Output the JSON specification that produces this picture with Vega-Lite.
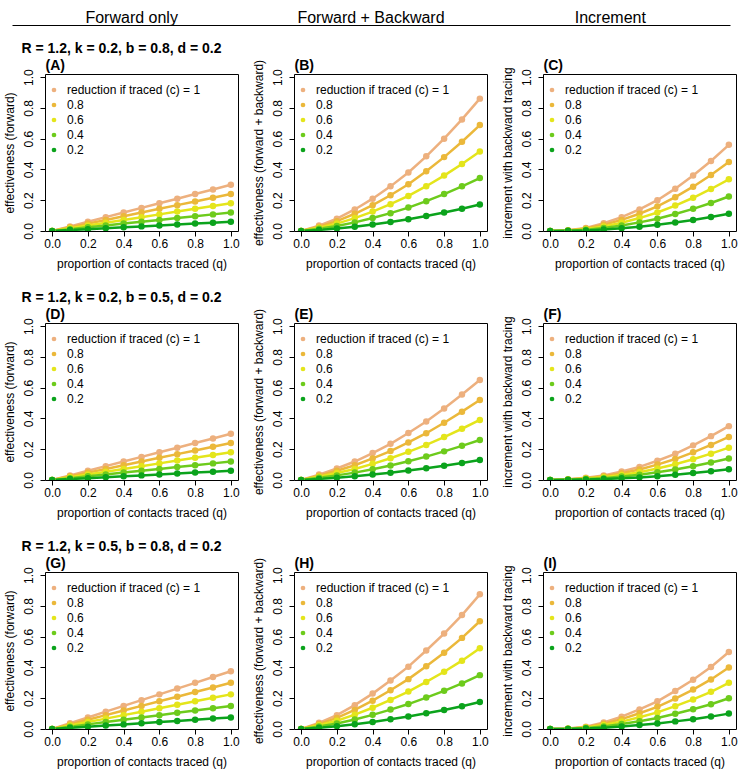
{
"$schema":"https://vega.github.io/schema/vega-lite/v6.json",
"background":"white",
"padding":{"left":2,"right":5,"top":5,"bottom":5},
"config":{
 "font":"Liberation Sans",
 "view":{"stroke":"black","strokeWidth":1},
 "axis":{"labelFont":"Liberation Sans","titleFont":"Liberation Sans","labelFontSize":12,"titleFontSize":12,"titleFontWeight":"normal","labelColor":"black","titleColor":"black","tickColor":"black","tickSize":5,"domain":false,"grid":false,"labelPadding":2},
 "axisBottom":{"titlePadding":9},
 "axisTop":{"titlePadding":2,"titleAnchor":"start","titleAlign":"left","titleFontWeight":"bold","titleFontSize":14,"labels":false,"ticks":false},
 "axisY":{"labelAngle":270,"labelAlign":"center","labelBaseline":"bottom","titlePadding":6,"labelPadding":5},
 "legend":{"orient":"none","legendX":3,"legendY":10,"padding":0,"labelFont":"Liberation Sans","labelFontSize":12,"labelColor":"black","symbolType":"circle","symbolSize":22,"rowPadding":3,"labelOffset":7,"symbolStrokeWidth":0},
 "title":{"font":"Liberation Sans","fontSize":14,"fontWeight":"bold","anchor":"start","offset":2,"color":"black"}
},
"datasets":{
"A":[
{"c":"1","q":0,"v":0},{"c":"1","q":0.1,"v":0.03},{"c":"1","q":0.2,"v":0.06},{"c":"1","q":0.3,"v":0.09},{"c":"1","q":0.4,"v":0.12},{"c":"1","q":0.5,"v":0.15},{"c":"1","q":0.6,"v":0.18},{"c":"1","q":0.7,"v":0.21},{"c":"1","q":0.8,"v":0.24},{"c":"1","q":0.9,"v":0.27},{"c":"1","q":1,"v":0.3},
{"c":"0.8","q":0,"v":0},{"c":"0.8","q":0.1,"v":0.024},{"c":"0.8","q":0.2,"v":0.048},{"c":"0.8","q":0.3,"v":0.072},{"c":"0.8","q":0.4,"v":0.096},{"c":"0.8","q":0.5,"v":0.12},{"c":"0.8","q":0.6,"v":0.144},{"c":"0.8","q":0.7,"v":0.168},{"c":"0.8","q":0.8,"v":0.192},{"c":"0.8","q":0.9,"v":0.216},{"c":"0.8","q":1,"v":0.24},
{"c":"0.6","q":0,"v":0},{"c":"0.6","q":0.1,"v":0.018},{"c":"0.6","q":0.2,"v":0.036},{"c":"0.6","q":0.3,"v":0.054},{"c":"0.6","q":0.4,"v":0.072},{"c":"0.6","q":0.5,"v":0.09},{"c":"0.6","q":0.6,"v":0.108},{"c":"0.6","q":0.7,"v":0.126},{"c":"0.6","q":0.8,"v":0.144},{"c":"0.6","q":0.9,"v":0.162},{"c":"0.6","q":1,"v":0.18},
{"c":"0.4","q":0,"v":0},{"c":"0.4","q":0.1,"v":0.012},{"c":"0.4","q":0.2,"v":0.024},{"c":"0.4","q":0.3,"v":0.036},{"c":"0.4","q":0.4,"v":0.048},{"c":"0.4","q":0.5,"v":0.06},{"c":"0.4","q":0.6,"v":0.072},{"c":"0.4","q":0.7,"v":0.084},{"c":"0.4","q":0.8,"v":0.096},{"c":"0.4","q":0.9,"v":0.108},{"c":"0.4","q":1,"v":0.12},
{"c":"0.2","q":0,"v":0},{"c":"0.2","q":0.1,"v":0.006},{"c":"0.2","q":0.2,"v":0.012},{"c":"0.2","q":0.3,"v":0.018},{"c":"0.2","q":0.4,"v":0.024},{"c":"0.2","q":0.5,"v":0.03},{"c":"0.2","q":0.6,"v":0.036},{"c":"0.2","q":0.7,"v":0.042},{"c":"0.2","q":0.8,"v":0.048},{"c":"0.2","q":0.9,"v":0.054},{"c":"0.2","q":1,"v":0.06}
],
"B":[
{"c":"1","q":0,"v":0},{"c":"1","q":0.1,"v":0.035},{"c":"1","q":0.2,"v":0.08},{"c":"1","q":0.3,"v":0.14},{"c":"1","q":0.4,"v":0.21},{"c":"1","q":0.5,"v":0.29},{"c":"1","q":0.6,"v":0.38},{"c":"1","q":0.7,"v":0.485},{"c":"1","q":0.8,"v":0.6},{"c":"1","q":0.9,"v":0.725},{"c":"1","q":1,"v":0.86},
{"c":"0.8","q":0,"v":0},{"c":"0.8","q":0.1,"v":0.028},{"c":"0.8","q":0.2,"v":0.064},{"c":"0.8","q":0.3,"v":0.112},{"c":"0.8","q":0.4,"v":0.168},{"c":"0.8","q":0.5,"v":0.232},{"c":"0.8","q":0.6,"v":0.304},{"c":"0.8","q":0.7,"v":0.388},{"c":"0.8","q":0.8,"v":0.48},{"c":"0.8","q":0.9,"v":0.58},{"c":"0.8","q":1,"v":0.688},
{"c":"0.6","q":0,"v":0},{"c":"0.6","q":0.1,"v":0.021},{"c":"0.6","q":0.2,"v":0.048},{"c":"0.6","q":0.3,"v":0.084},{"c":"0.6","q":0.4,"v":0.126},{"c":"0.6","q":0.5,"v":0.174},{"c":"0.6","q":0.6,"v":0.228},{"c":"0.6","q":0.7,"v":0.291},{"c":"0.6","q":0.8,"v":0.36},{"c":"0.6","q":0.9,"v":0.435},{"c":"0.6","q":1,"v":0.516},
{"c":"0.4","q":0,"v":0},{"c":"0.4","q":0.1,"v":0.014},{"c":"0.4","q":0.2,"v":0.032},{"c":"0.4","q":0.3,"v":0.056},{"c":"0.4","q":0.4,"v":0.084},{"c":"0.4","q":0.5,"v":0.116},{"c":"0.4","q":0.6,"v":0.152},{"c":"0.4","q":0.7,"v":0.194},{"c":"0.4","q":0.8,"v":0.24},{"c":"0.4","q":0.9,"v":0.29},{"c":"0.4","q":1,"v":0.344},
{"c":"0.2","q":0,"v":0},{"c":"0.2","q":0.1,"v":0.007},{"c":"0.2","q":0.2,"v":0.016},{"c":"0.2","q":0.3,"v":0.028},{"c":"0.2","q":0.4,"v":0.042},{"c":"0.2","q":0.5,"v":0.058},{"c":"0.2","q":0.6,"v":0.076},{"c":"0.2","q":0.7,"v":0.097},{"c":"0.2","q":0.8,"v":0.12},{"c":"0.2","q":0.9,"v":0.145},{"c":"0.2","q":1,"v":0.172}
],
"C":[
{"c":"1","q":0,"v":0},{"c":"1","q":0.1,"v":0.005},{"c":"1","q":0.2,"v":0.02},{"c":"1","q":0.3,"v":0.05},{"c":"1","q":0.4,"v":0.09},{"c":"1","q":0.5,"v":0.14},{"c":"1","q":0.6,"v":0.2},{"c":"1","q":0.7,"v":0.275},{"c":"1","q":0.8,"v":0.36},{"c":"1","q":0.9,"v":0.455},{"c":"1","q":1,"v":0.56},
{"c":"0.8","q":0,"v":0},{"c":"0.8","q":0.1,"v":0.004},{"c":"0.8","q":0.2,"v":0.016},{"c":"0.8","q":0.3,"v":0.04},{"c":"0.8","q":0.4,"v":0.072},{"c":"0.8","q":0.5,"v":0.112},{"c":"0.8","q":0.6,"v":0.16},{"c":"0.8","q":0.7,"v":0.22},{"c":"0.8","q":0.8,"v":0.288},{"c":"0.8","q":0.9,"v":0.364},{"c":"0.8","q":1,"v":0.448},
{"c":"0.6","q":0,"v":0},{"c":"0.6","q":0.1,"v":0.003},{"c":"0.6","q":0.2,"v":0.012},{"c":"0.6","q":0.3,"v":0.03},{"c":"0.6","q":0.4,"v":0.054},{"c":"0.6","q":0.5,"v":0.084},{"c":"0.6","q":0.6,"v":0.12},{"c":"0.6","q":0.7,"v":0.165},{"c":"0.6","q":0.8,"v":0.216},{"c":"0.6","q":0.9,"v":0.273},{"c":"0.6","q":1,"v":0.336},
{"c":"0.4","q":0,"v":0},{"c":"0.4","q":0.1,"v":0.002},{"c":"0.4","q":0.2,"v":0.008},{"c":"0.4","q":0.3,"v":0.02},{"c":"0.4","q":0.4,"v":0.036},{"c":"0.4","q":0.5,"v":0.056},{"c":"0.4","q":0.6,"v":0.08},{"c":"0.4","q":0.7,"v":0.11},{"c":"0.4","q":0.8,"v":0.144},{"c":"0.4","q":0.9,"v":0.182},{"c":"0.4","q":1,"v":0.224},
{"c":"0.2","q":0,"v":0},{"c":"0.2","q":0.1,"v":0.001},{"c":"0.2","q":0.2,"v":0.004},{"c":"0.2","q":0.3,"v":0.01},{"c":"0.2","q":0.4,"v":0.018},{"c":"0.2","q":0.5,"v":0.028},{"c":"0.2","q":0.6,"v":0.04},{"c":"0.2","q":0.7,"v":0.055},{"c":"0.2","q":0.8,"v":0.072},{"c":"0.2","q":0.9,"v":0.091},{"c":"0.2","q":1,"v":0.112}
],
"D":[
{"c":"1","q":0,"v":0},{"c":"1","q":0.1,"v":0.03},{"c":"1","q":0.2,"v":0.06},{"c":"1","q":0.3,"v":0.09},{"c":"1","q":0.4,"v":0.12},{"c":"1","q":0.5,"v":0.15},{"c":"1","q":0.6,"v":0.18},{"c":"1","q":0.7,"v":0.21},{"c":"1","q":0.8,"v":0.24},{"c":"1","q":0.9,"v":0.27},{"c":"1","q":1,"v":0.3},
{"c":"0.8","q":0,"v":0},{"c":"0.8","q":0.1,"v":0.024},{"c":"0.8","q":0.2,"v":0.048},{"c":"0.8","q":0.3,"v":0.072},{"c":"0.8","q":0.4,"v":0.096},{"c":"0.8","q":0.5,"v":0.12},{"c":"0.8","q":0.6,"v":0.144},{"c":"0.8","q":0.7,"v":0.168},{"c":"0.8","q":0.8,"v":0.192},{"c":"0.8","q":0.9,"v":0.216},{"c":"0.8","q":1,"v":0.24},
{"c":"0.6","q":0,"v":0},{"c":"0.6","q":0.1,"v":0.018},{"c":"0.6","q":0.2,"v":0.036},{"c":"0.6","q":0.3,"v":0.054},{"c":"0.6","q":0.4,"v":0.072},{"c":"0.6","q":0.5,"v":0.09},{"c":"0.6","q":0.6,"v":0.108},{"c":"0.6","q":0.7,"v":0.126},{"c":"0.6","q":0.8,"v":0.144},{"c":"0.6","q":0.9,"v":0.162},{"c":"0.6","q":1,"v":0.18},
{"c":"0.4","q":0,"v":0},{"c":"0.4","q":0.1,"v":0.012},{"c":"0.4","q":0.2,"v":0.024},{"c":"0.4","q":0.3,"v":0.036},{"c":"0.4","q":0.4,"v":0.048},{"c":"0.4","q":0.5,"v":0.06},{"c":"0.4","q":0.6,"v":0.072},{"c":"0.4","q":0.7,"v":0.084},{"c":"0.4","q":0.8,"v":0.096},{"c":"0.4","q":0.9,"v":0.108},{"c":"0.4","q":1,"v":0.12},
{"c":"0.2","q":0,"v":0},{"c":"0.2","q":0.1,"v":0.006},{"c":"0.2","q":0.2,"v":0.012},{"c":"0.2","q":0.3,"v":0.018},{"c":"0.2","q":0.4,"v":0.024},{"c":"0.2","q":0.5,"v":0.03},{"c":"0.2","q":0.6,"v":0.036},{"c":"0.2","q":0.7,"v":0.042},{"c":"0.2","q":0.8,"v":0.048},{"c":"0.2","q":0.9,"v":0.054},{"c":"0.2","q":1,"v":0.06}
],
"E":[
{"c":"1","q":0,"v":0},{"c":"1","q":0.1,"v":0.035},{"c":"1","q":0.2,"v":0.075},{"c":"1","q":0.3,"v":0.12},{"c":"1","q":0.4,"v":0.175},{"c":"1","q":0.5,"v":0.235},{"c":"1","q":0.6,"v":0.305},{"c":"1","q":0.7,"v":0.38},{"c":"1","q":0.8,"v":0.465},{"c":"1","q":0.9,"v":0.555},{"c":"1","q":1,"v":0.65},
{"c":"0.8","q":0,"v":0},{"c":"0.8","q":0.1,"v":0.028},{"c":"0.8","q":0.2,"v":0.06},{"c":"0.8","q":0.3,"v":0.096},{"c":"0.8","q":0.4,"v":0.14},{"c":"0.8","q":0.5,"v":0.188},{"c":"0.8","q":0.6,"v":0.244},{"c":"0.8","q":0.7,"v":0.304},{"c":"0.8","q":0.8,"v":0.372},{"c":"0.8","q":0.9,"v":0.444},{"c":"0.8","q":1,"v":0.52},
{"c":"0.6","q":0,"v":0},{"c":"0.6","q":0.1,"v":0.021},{"c":"0.6","q":0.2,"v":0.045},{"c":"0.6","q":0.3,"v":0.072},{"c":"0.6","q":0.4,"v":0.105},{"c":"0.6","q":0.5,"v":0.141},{"c":"0.6","q":0.6,"v":0.183},{"c":"0.6","q":0.7,"v":0.228},{"c":"0.6","q":0.8,"v":0.279},{"c":"0.6","q":0.9,"v":0.333},{"c":"0.6","q":1,"v":0.39},
{"c":"0.4","q":0,"v":0},{"c":"0.4","q":0.1,"v":0.014},{"c":"0.4","q":0.2,"v":0.03},{"c":"0.4","q":0.3,"v":0.048},{"c":"0.4","q":0.4,"v":0.07},{"c":"0.4","q":0.5,"v":0.094},{"c":"0.4","q":0.6,"v":0.122},{"c":"0.4","q":0.7,"v":0.152},{"c":"0.4","q":0.8,"v":0.186},{"c":"0.4","q":0.9,"v":0.222},{"c":"0.4","q":1,"v":0.26},
{"c":"0.2","q":0,"v":0},{"c":"0.2","q":0.1,"v":0.007},{"c":"0.2","q":0.2,"v":0.015},{"c":"0.2","q":0.3,"v":0.024},{"c":"0.2","q":0.4,"v":0.035},{"c":"0.2","q":0.5,"v":0.047},{"c":"0.2","q":0.6,"v":0.061},{"c":"0.2","q":0.7,"v":0.076},{"c":"0.2","q":0.8,"v":0.093},{"c":"0.2","q":0.9,"v":0.111},{"c":"0.2","q":1,"v":0.13}
],
"F":[
{"c":"1","q":0,"v":0},{"c":"1","q":0.1,"v":0.005},{"c":"1","q":0.2,"v":0.015},{"c":"1","q":0.3,"v":0.03},{"c":"1","q":0.4,"v":0.055},{"c":"1","q":0.5,"v":0.085},{"c":"1","q":0.6,"v":0.125},{"c":"1","q":0.7,"v":0.17},{"c":"1","q":0.8,"v":0.225},{"c":"1","q":0.9,"v":0.285},{"c":"1","q":1,"v":0.35},
{"c":"0.8","q":0,"v":0},{"c":"0.8","q":0.1,"v":0.004},{"c":"0.8","q":0.2,"v":0.012},{"c":"0.8","q":0.3,"v":0.024},{"c":"0.8","q":0.4,"v":0.044},{"c":"0.8","q":0.5,"v":0.068},{"c":"0.8","q":0.6,"v":0.1},{"c":"0.8","q":0.7,"v":0.136},{"c":"0.8","q":0.8,"v":0.18},{"c":"0.8","q":0.9,"v":0.228},{"c":"0.8","q":1,"v":0.28},
{"c":"0.6","q":0,"v":0},{"c":"0.6","q":0.1,"v":0.003},{"c":"0.6","q":0.2,"v":0.009},{"c":"0.6","q":0.3,"v":0.018},{"c":"0.6","q":0.4,"v":0.033},{"c":"0.6","q":0.5,"v":0.051},{"c":"0.6","q":0.6,"v":0.075},{"c":"0.6","q":0.7,"v":0.102},{"c":"0.6","q":0.8,"v":0.135},{"c":"0.6","q":0.9,"v":0.171},{"c":"0.6","q":1,"v":0.21},
{"c":"0.4","q":0,"v":0},{"c":"0.4","q":0.1,"v":0.002},{"c":"0.4","q":0.2,"v":0.006},{"c":"0.4","q":0.3,"v":0.012},{"c":"0.4","q":0.4,"v":0.022},{"c":"0.4","q":0.5,"v":0.034},{"c":"0.4","q":0.6,"v":0.05},{"c":"0.4","q":0.7,"v":0.068},{"c":"0.4","q":0.8,"v":0.09},{"c":"0.4","q":0.9,"v":0.114},{"c":"0.4","q":1,"v":0.14},
{"c":"0.2","q":0,"v":0},{"c":"0.2","q":0.1,"v":0.001},{"c":"0.2","q":0.2,"v":0.003},{"c":"0.2","q":0.3,"v":0.006},{"c":"0.2","q":0.4,"v":0.011},{"c":"0.2","q":0.5,"v":0.017},{"c":"0.2","q":0.6,"v":0.025},{"c":"0.2","q":0.7,"v":0.034},{"c":"0.2","q":0.8,"v":0.045},{"c":"0.2","q":0.9,"v":0.057},{"c":"0.2","q":1,"v":0.07}
],
"G":[
{"c":"1","q":0,"v":0},{"c":"1","q":0.1,"v":0.0375},{"c":"1","q":0.2,"v":0.075},{"c":"1","q":0.3,"v":0.1125},{"c":"1","q":0.4,"v":0.15},{"c":"1","q":0.5,"v":0.1875},{"c":"1","q":0.6,"v":0.225},{"c":"1","q":0.7,"v":0.2625},{"c":"1","q":0.8,"v":0.3},{"c":"1","q":0.9,"v":0.3375},{"c":"1","q":1,"v":0.375},
{"c":"0.8","q":0,"v":0},{"c":"0.8","q":0.1,"v":0.03},{"c":"0.8","q":0.2,"v":0.06},{"c":"0.8","q":0.3,"v":0.09},{"c":"0.8","q":0.4,"v":0.12},{"c":"0.8","q":0.5,"v":0.15},{"c":"0.8","q":0.6,"v":0.18},{"c":"0.8","q":0.7,"v":0.21},{"c":"0.8","q":0.8,"v":0.24},{"c":"0.8","q":0.9,"v":0.27},{"c":"0.8","q":1,"v":0.3},
{"c":"0.6","q":0,"v":0},{"c":"0.6","q":0.1,"v":0.0225},{"c":"0.6","q":0.2,"v":0.045},{"c":"0.6","q":0.3,"v":0.0675},{"c":"0.6","q":0.4,"v":0.09},{"c":"0.6","q":0.5,"v":0.1125},{"c":"0.6","q":0.6,"v":0.135},{"c":"0.6","q":0.7,"v":0.1575},{"c":"0.6","q":0.8,"v":0.18},{"c":"0.6","q":0.9,"v":0.2025},{"c":"0.6","q":1,"v":0.225},
{"c":"0.4","q":0,"v":0},{"c":"0.4","q":0.1,"v":0.015},{"c":"0.4","q":0.2,"v":0.03},{"c":"0.4","q":0.3,"v":0.045},{"c":"0.4","q":0.4,"v":0.06},{"c":"0.4","q":0.5,"v":0.075},{"c":"0.4","q":0.6,"v":0.09},{"c":"0.4","q":0.7,"v":0.105},{"c":"0.4","q":0.8,"v":0.12},{"c":"0.4","q":0.9,"v":0.135},{"c":"0.4","q":1,"v":0.15},
{"c":"0.2","q":0,"v":0},{"c":"0.2","q":0.1,"v":0.0075},{"c":"0.2","q":0.2,"v":0.015},{"c":"0.2","q":0.3,"v":0.0225},{"c":"0.2","q":0.4,"v":0.03},{"c":"0.2","q":0.5,"v":0.0375},{"c":"0.2","q":0.6,"v":0.045},{"c":"0.2","q":0.7,"v":0.0525},{"c":"0.2","q":0.8,"v":0.06},{"c":"0.2","q":0.9,"v":0.0675},{"c":"0.2","q":1,"v":0.075}
],
"H":[
{"c":"1","q":0,"v":0},{"c":"1","q":0.1,"v":0.04},{"c":"1","q":0.2,"v":0.09},{"c":"1","q":0.3,"v":0.155},{"c":"1","q":0.4,"v":0.23},{"c":"1","q":0.5,"v":0.315},{"c":"1","q":0.6,"v":0.405},{"c":"1","q":0.7,"v":0.51},{"c":"1","q":0.8,"v":0.62},{"c":"1","q":0.9,"v":0.74},{"c":"1","q":1,"v":0.875},
{"c":"0.8","q":0,"v":0},{"c":"0.8","q":0.1,"v":0.032},{"c":"0.8","q":0.2,"v":0.072},{"c":"0.8","q":0.3,"v":0.124},{"c":"0.8","q":0.4,"v":0.184},{"c":"0.8","q":0.5,"v":0.252},{"c":"0.8","q":0.6,"v":0.324},{"c":"0.8","q":0.7,"v":0.408},{"c":"0.8","q":0.8,"v":0.496},{"c":"0.8","q":0.9,"v":0.592},{"c":"0.8","q":1,"v":0.7},
{"c":"0.6","q":0,"v":0},{"c":"0.6","q":0.1,"v":0.024},{"c":"0.6","q":0.2,"v":0.054},{"c":"0.6","q":0.3,"v":0.093},{"c":"0.6","q":0.4,"v":0.138},{"c":"0.6","q":0.5,"v":0.189},{"c":"0.6","q":0.6,"v":0.243},{"c":"0.6","q":0.7,"v":0.306},{"c":"0.6","q":0.8,"v":0.372},{"c":"0.6","q":0.9,"v":0.444},{"c":"0.6","q":1,"v":0.525},
{"c":"0.4","q":0,"v":0},{"c":"0.4","q":0.1,"v":0.016},{"c":"0.4","q":0.2,"v":0.036},{"c":"0.4","q":0.3,"v":0.062},{"c":"0.4","q":0.4,"v":0.092},{"c":"0.4","q":0.5,"v":0.126},{"c":"0.4","q":0.6,"v":0.162},{"c":"0.4","q":0.7,"v":0.204},{"c":"0.4","q":0.8,"v":0.248},{"c":"0.4","q":0.9,"v":0.296},{"c":"0.4","q":1,"v":0.35},
{"c":"0.2","q":0,"v":0},{"c":"0.2","q":0.1,"v":0.008},{"c":"0.2","q":0.2,"v":0.018},{"c":"0.2","q":0.3,"v":0.031},{"c":"0.2","q":0.4,"v":0.046},{"c":"0.2","q":0.5,"v":0.063},{"c":"0.2","q":0.6,"v":0.081},{"c":"0.2","q":0.7,"v":0.102},{"c":"0.2","q":0.8,"v":0.124},{"c":"0.2","q":0.9,"v":0.148},{"c":"0.2","q":1,"v":0.175}
],
"I":[
{"c":"1","q":0,"v":0},{"c":"1","q":0.1,"v":0.0025},{"c":"1","q":0.2,"v":0.015},{"c":"1","q":0.3,"v":0.0425},{"c":"1","q":0.4,"v":0.08},{"c":"1","q":0.5,"v":0.1275},{"c":"1","q":0.6,"v":0.18},{"c":"1","q":0.7,"v":0.2475},{"c":"1","q":0.8,"v":0.32},{"c":"1","q":0.9,"v":0.4025},{"c":"1","q":1,"v":0.5},
{"c":"0.8","q":0,"v":0},{"c":"0.8","q":0.1,"v":0.002},{"c":"0.8","q":0.2,"v":0.012},{"c":"0.8","q":0.3,"v":0.034},{"c":"0.8","q":0.4,"v":0.064},{"c":"0.8","q":0.5,"v":0.102},{"c":"0.8","q":0.6,"v":0.144},{"c":"0.8","q":0.7,"v":0.198},{"c":"0.8","q":0.8,"v":0.256},{"c":"0.8","q":0.9,"v":0.322},{"c":"0.8","q":1,"v":0.4},
{"c":"0.6","q":0,"v":0},{"c":"0.6","q":0.1,"v":0.0015},{"c":"0.6","q":0.2,"v":0.009},{"c":"0.6","q":0.3,"v":0.0255},{"c":"0.6","q":0.4,"v":0.048},{"c":"0.6","q":0.5,"v":0.0765},{"c":"0.6","q":0.6,"v":0.108},{"c":"0.6","q":0.7,"v":0.1485},{"c":"0.6","q":0.8,"v":0.192},{"c":"0.6","q":0.9,"v":0.2415},{"c":"0.6","q":1,"v":0.3},
{"c":"0.4","q":0,"v":0},{"c":"0.4","q":0.1,"v":0.001},{"c":"0.4","q":0.2,"v":0.006},{"c":"0.4","q":0.3,"v":0.017},{"c":"0.4","q":0.4,"v":0.032},{"c":"0.4","q":0.5,"v":0.051},{"c":"0.4","q":0.6,"v":0.072},{"c":"0.4","q":0.7,"v":0.099},{"c":"0.4","q":0.8,"v":0.128},{"c":"0.4","q":0.9,"v":0.161},{"c":"0.4","q":1,"v":0.2},
{"c":"0.2","q":0,"v":0},{"c":"0.2","q":0.1,"v":0.0005},{"c":"0.2","q":0.2,"v":0.003},{"c":"0.2","q":0.3,"v":0.0085},{"c":"0.2","q":0.4,"v":0.016},{"c":"0.2","q":0.5,"v":0.0255},{"c":"0.2","q":0.6,"v":0.036},{"c":"0.2","q":0.7,"v":0.0495},{"c":"0.2","q":0.8,"v":0.064},{"c":"0.2","q":0.9,"v":0.0805},{"c":"0.2","q":1,"v":0.1}
]
},
"spacing":15,
"resolve":{"scale":{"color":"independent"},"legend":{"color":"independent"}},
"vconcat":[
{
 "width":685,"height":20,
 "view":{"stroke":null},
 "data":{"values":[{"h":"Forward only"},{"h":"Forward + Backward"},{"h":"Increment"}]},
 "mark":{"type":"text","fontSize":16,"font":"Liberation Sans","baseline":"middle","dy":3,"color":"black"},
 "encoding":{
  "x":{"field":"h","type":"nominal","sort":["Forward only","Forward + Backward","Increment"],"scale":{"type":"point","padding":0.5,"range":[-33,685]},"axis":{"orient":"bottom","domain":true,"domainColor":"black","domainWidth":1,"ticks":false,"labels":false,"title":null}},
  "text":{"field":"h","type":"nominal"}
 }
},
{
 "spacing":20,
 "resolve":{"scale":{"color":"independent"},"legend":{"color":"independent"}},
 "vconcat":[
 {"title":{"text":"R = 1.2, k = 0.2, b = 0.8, d = 0.2","fontSize":14,"offset":2,"dx":19,"frame":"bounds"},"spacing":11,
  "resolve":{"scale":{"color":"independent"},"legend":{"color":"independent"}},
  "hconcat":[
  {"width":193,"height":157,"data":{"name":"A"},"resolve":{"axis":{"x":"independent"},"legend":{"color":"independent"}},
   "encoding":{"y":{"field":"v","type":"quantitative","scale":{"domain":[0,1.02],"nice":false},"axis":{"values":[0,0.2,0.4,0.6,0.8,1],"format":".1f","title":"effectiveness (forward)"}}},
   "layer":[
    {"mark":{"type":"line","strokeWidth":2.5,"clip":true},"encoding":{"x":{"field":"q","type":"quantitative","scale":{"domain":[-0.04,1.04],"nice":false,"zero":false},"axis":{"orient":"bottom","values":[0,0.2,0.4,0.6,0.8,1],"format":".1f","title":"proportion of contacts traced (q)"}},"color":{"field":"c","type":"nominal","scale":{"domain":["1","0.8","0.6","0.4","0.2"],"range":["#EDB07E","#EBB83A","#E4E51B","#6DCB1C","#0BA31C"]},"legend":null}}},
    {"mark":{"type":"point","filled":true,"size":42,"opacity":1,"clip":true},"encoding":{"x":{"field":"q","type":"quantitative","scale":{"domain":[-0.04,1.04],"nice":false,"zero":false},"axis":{"orient":"top","title":"(A)"}},"color":{"field":"c","type":"nominal","scale":{"domain":["1","0.8","0.6","0.4","0.2"],"range":["#EDB07E","#EBB83A","#E4E51B","#6DCB1C","#0BA31C"]},"legend":{"title":null,"labelExpr":"datum.label == '1' ? 'reduction if traced (c) = 1' : '\u00a0' + datum.label"}}}}
   ]},
  {"width":193,"height":157,"data":{"name":"B"},"resolve":{"axis":{"x":"independent"},"legend":{"color":"independent"}},
   "encoding":{"y":{"field":"v","type":"quantitative","scale":{"domain":[0,1.02],"nice":false},"axis":{"values":[0,0.2,0.4,0.6,0.8,1],"format":".1f","title":"effectiveness (forward + backward)"}}},
   "layer":[
    {"mark":{"type":"line","strokeWidth":2.5,"clip":true},"encoding":{"x":{"field":"q","type":"quantitative","scale":{"domain":[-0.04,1.04],"nice":false,"zero":false},"axis":{"orient":"bottom","values":[0,0.2,0.4,0.6,0.8,1],"format":".1f","title":"proportion of contacts traced (q)"}},"color":{"field":"c","type":"nominal","scale":{"domain":["1","0.8","0.6","0.4","0.2"],"range":["#EDB07E","#EBB83A","#E4E51B","#6DCB1C","#0BA31C"]},"legend":null}}},
    {"mark":{"type":"point","filled":true,"size":42,"opacity":1,"clip":true},"encoding":{"x":{"field":"q","type":"quantitative","scale":{"domain":[-0.04,1.04],"nice":false,"zero":false},"axis":{"orient":"top","title":"(B)"}},"color":{"field":"c","type":"nominal","scale":{"domain":["1","0.8","0.6","0.4","0.2"],"range":["#EDB07E","#EBB83A","#E4E51B","#6DCB1C","#0BA31C"]},"legend":{"title":null,"labelExpr":"datum.label == '1' ? 'reduction if traced (c) = 1' : '\u00a0' + datum.label"}}}}
   ]},
  {"width":193,"height":157,"data":{"name":"C"},"resolve":{"axis":{"x":"independent"},"legend":{"color":"independent"}},
   "encoding":{"y":{"field":"v","type":"quantitative","scale":{"domain":[0,1.02],"nice":false},"axis":{"values":[0,0.2,0.4,0.6,0.8,1],"format":".1f","title":"increment with backward tracing"}}},
   "layer":[
    {"mark":{"type":"line","strokeWidth":2.5,"clip":true},"encoding":{"x":{"field":"q","type":"quantitative","scale":{"domain":[-0.04,1.04],"nice":false,"zero":false},"axis":{"orient":"bottom","values":[0,0.2,0.4,0.6,0.8,1],"format":".1f","title":"proportion of contacts traced (q)"}},"color":{"field":"c","type":"nominal","scale":{"domain":["1","0.8","0.6","0.4","0.2"],"range":["#EDB07E","#EBB83A","#E4E51B","#6DCB1C","#0BA31C"]},"legend":null}}},
    {"mark":{"type":"point","filled":true,"size":42,"opacity":1,"clip":true},"encoding":{"x":{"field":"q","type":"quantitative","scale":{"domain":[-0.04,1.04],"nice":false,"zero":false},"axis":{"orient":"top","title":"(C)"}},"color":{"field":"c","type":"nominal","scale":{"domain":["1","0.8","0.6","0.4","0.2"],"range":["#EDB07E","#EBB83A","#E4E51B","#6DCB1C","#0BA31C"]},"legend":{"title":null,"labelExpr":"datum.label == '1' ? 'reduction if traced (c) = 1' : '\u00a0' + datum.label"}}}}
   ]}
 ]},
 {"title":{"text":"R = 1.2, k = 0.2, b = 0.5, d = 0.2","fontSize":14,"offset":2,"dx":19,"frame":"bounds"},"spacing":11,
  "resolve":{"scale":{"color":"independent"},"legend":{"color":"independent"}},
  "hconcat":[
  {"width":193,"height":157,"data":{"name":"D"},"resolve":{"axis":{"x":"independent"},"legend":{"color":"independent"}},
   "encoding":{"y":{"field":"v","type":"quantitative","scale":{"domain":[0,1.02],"nice":false},"axis":{"values":[0,0.2,0.4,0.6,0.8,1],"format":".1f","title":"effectiveness (forward)"}}},
   "layer":[
    {"mark":{"type":"line","strokeWidth":2.5,"clip":true},"encoding":{"x":{"field":"q","type":"quantitative","scale":{"domain":[-0.04,1.04],"nice":false,"zero":false},"axis":{"orient":"bottom","values":[0,0.2,0.4,0.6,0.8,1],"format":".1f","title":"proportion of contacts traced (q)"}},"color":{"field":"c","type":"nominal","scale":{"domain":["1","0.8","0.6","0.4","0.2"],"range":["#EDB07E","#EBB83A","#E4E51B","#6DCB1C","#0BA31C"]},"legend":null}}},
    {"mark":{"type":"point","filled":true,"size":42,"opacity":1,"clip":true},"encoding":{"x":{"field":"q","type":"quantitative","scale":{"domain":[-0.04,1.04],"nice":false,"zero":false},"axis":{"orient":"top","title":"(D)"}},"color":{"field":"c","type":"nominal","scale":{"domain":["1","0.8","0.6","0.4","0.2"],"range":["#EDB07E","#EBB83A","#E4E51B","#6DCB1C","#0BA31C"]},"legend":{"title":null,"labelExpr":"datum.label == '1' ? 'reduction if traced (c) = 1' : '\u00a0' + datum.label"}}}}
   ]},
  {"width":193,"height":157,"data":{"name":"E"},"resolve":{"axis":{"x":"independent"},"legend":{"color":"independent"}},
   "encoding":{"y":{"field":"v","type":"quantitative","scale":{"domain":[0,1.02],"nice":false},"axis":{"values":[0,0.2,0.4,0.6,0.8,1],"format":".1f","title":"effectiveness (forward + backward)"}}},
   "layer":[
    {"mark":{"type":"line","strokeWidth":2.5,"clip":true},"encoding":{"x":{"field":"q","type":"quantitative","scale":{"domain":[-0.04,1.04],"nice":false,"zero":false},"axis":{"orient":"bottom","values":[0,0.2,0.4,0.6,0.8,1],"format":".1f","title":"proportion of contacts traced (q)"}},"color":{"field":"c","type":"nominal","scale":{"domain":["1","0.8","0.6","0.4","0.2"],"range":["#EDB07E","#EBB83A","#E4E51B","#6DCB1C","#0BA31C"]},"legend":null}}},
    {"mark":{"type":"point","filled":true,"size":42,"opacity":1,"clip":true},"encoding":{"x":{"field":"q","type":"quantitative","scale":{"domain":[-0.04,1.04],"nice":false,"zero":false},"axis":{"orient":"top","title":"(E)"}},"color":{"field":"c","type":"nominal","scale":{"domain":["1","0.8","0.6","0.4","0.2"],"range":["#EDB07E","#EBB83A","#E4E51B","#6DCB1C","#0BA31C"]},"legend":{"title":null,"labelExpr":"datum.label == '1' ? 'reduction if traced (c) = 1' : '\u00a0' + datum.label"}}}}
   ]},
  {"width":193,"height":157,"data":{"name":"F"},"resolve":{"axis":{"x":"independent"},"legend":{"color":"independent"}},
   "encoding":{"y":{"field":"v","type":"quantitative","scale":{"domain":[0,1.02],"nice":false},"axis":{"values":[0,0.2,0.4,0.6,0.8,1],"format":".1f","title":"increment with backward tracing"}}},
   "layer":[
    {"mark":{"type":"line","strokeWidth":2.5,"clip":true},"encoding":{"x":{"field":"q","type":"quantitative","scale":{"domain":[-0.04,1.04],"nice":false,"zero":false},"axis":{"orient":"bottom","values":[0,0.2,0.4,0.6,0.8,1],"format":".1f","title":"proportion of contacts traced (q)"}},"color":{"field":"c","type":"nominal","scale":{"domain":["1","0.8","0.6","0.4","0.2"],"range":["#EDB07E","#EBB83A","#E4E51B","#6DCB1C","#0BA31C"]},"legend":null}}},
    {"mark":{"type":"point","filled":true,"size":42,"opacity":1,"clip":true},"encoding":{"x":{"field":"q","type":"quantitative","scale":{"domain":[-0.04,1.04],"nice":false,"zero":false},"axis":{"orient":"top","title":"(F)"}},"color":{"field":"c","type":"nominal","scale":{"domain":["1","0.8","0.6","0.4","0.2"],"range":["#EDB07E","#EBB83A","#E4E51B","#6DCB1C","#0BA31C"]},"legend":{"title":null,"labelExpr":"datum.label == '1' ? 'reduction if traced (c) = 1' : '\u00a0' + datum.label"}}}}
   ]}
 ]},
 {"title":{"text":"R = 1.2, k = 0.5, b = 0.8, d = 0.2","fontSize":14,"offset":2,"dx":19,"frame":"bounds"},"spacing":11,
  "resolve":{"scale":{"color":"independent"},"legend":{"color":"independent"}},
  "hconcat":[
  {"width":193,"height":157,"data":{"name":"G"},"resolve":{"axis":{"x":"independent"},"legend":{"color":"independent"}},
   "encoding":{"y":{"field":"v","type":"quantitative","scale":{"domain":[0,1.02],"nice":false},"axis":{"values":[0,0.2,0.4,0.6,0.8,1],"format":".1f","title":"effectiveness (forward)"}}},
   "layer":[
    {"mark":{"type":"line","strokeWidth":2.5,"clip":true},"encoding":{"x":{"field":"q","type":"quantitative","scale":{"domain":[-0.04,1.04],"nice":false,"zero":false},"axis":{"orient":"bottom","values":[0,0.2,0.4,0.6,0.8,1],"format":".1f","title":"proportion of contacts traced (q)"}},"color":{"field":"c","type":"nominal","scale":{"domain":["1","0.8","0.6","0.4","0.2"],"range":["#EDB07E","#EBB83A","#E4E51B","#6DCB1C","#0BA31C"]},"legend":null}}},
    {"mark":{"type":"point","filled":true,"size":42,"opacity":1,"clip":true},"encoding":{"x":{"field":"q","type":"quantitative","scale":{"domain":[-0.04,1.04],"nice":false,"zero":false},"axis":{"orient":"top","title":"(G)"}},"color":{"field":"c","type":"nominal","scale":{"domain":["1","0.8","0.6","0.4","0.2"],"range":["#EDB07E","#EBB83A","#E4E51B","#6DCB1C","#0BA31C"]},"legend":{"title":null,"labelExpr":"datum.label == '1' ? 'reduction if traced (c) = 1' : '\u00a0' + datum.label"}}}}
   ]},
  {"width":193,"height":157,"data":{"name":"H"},"resolve":{"axis":{"x":"independent"},"legend":{"color":"independent"}},
   "encoding":{"y":{"field":"v","type":"quantitative","scale":{"domain":[0,1.02],"nice":false},"axis":{"values":[0,0.2,0.4,0.6,0.8,1],"format":".1f","title":"effectiveness (forward + backward)"}}},
   "layer":[
    {"mark":{"type":"line","strokeWidth":2.5,"clip":true},"encoding":{"x":{"field":"q","type":"quantitative","scale":{"domain":[-0.04,1.04],"nice":false,"zero":false},"axis":{"orient":"bottom","values":[0,0.2,0.4,0.6,0.8,1],"format":".1f","title":"proportion of contacts traced (q)"}},"color":{"field":"c","type":"nominal","scale":{"domain":["1","0.8","0.6","0.4","0.2"],"range":["#EDB07E","#EBB83A","#E4E51B","#6DCB1C","#0BA31C"]},"legend":null}}},
    {"mark":{"type":"point","filled":true,"size":42,"opacity":1,"clip":true},"encoding":{"x":{"field":"q","type":"quantitative","scale":{"domain":[-0.04,1.04],"nice":false,"zero":false},"axis":{"orient":"top","title":"(H)"}},"color":{"field":"c","type":"nominal","scale":{"domain":["1","0.8","0.6","0.4","0.2"],"range":["#EDB07E","#EBB83A","#E4E51B","#6DCB1C","#0BA31C"]},"legend":{"title":null,"labelExpr":"datum.label == '1' ? 'reduction if traced (c) = 1' : '\u00a0' + datum.label"}}}}
   ]},
  {"width":193,"height":157,"data":{"name":"I"},"resolve":{"axis":{"x":"independent"},"legend":{"color":"independent"}},
   "encoding":{"y":{"field":"v","type":"quantitative","scale":{"domain":[0,1.02],"nice":false},"axis":{"values":[0,0.2,0.4,0.6,0.8,1],"format":".1f","title":"increment with backward tracing"}}},
   "layer":[
    {"mark":{"type":"line","strokeWidth":2.5,"clip":true},"encoding":{"x":{"field":"q","type":"quantitative","scale":{"domain":[-0.04,1.04],"nice":false,"zero":false},"axis":{"orient":"bottom","values":[0,0.2,0.4,0.6,0.8,1],"format":".1f","title":"proportion of contacts traced (q)"}},"color":{"field":"c","type":"nominal","scale":{"domain":["1","0.8","0.6","0.4","0.2"],"range":["#EDB07E","#EBB83A","#E4E51B","#6DCB1C","#0BA31C"]},"legend":null}}},
    {"mark":{"type":"point","filled":true,"size":42,"opacity":1,"clip":true},"encoding":{"x":{"field":"q","type":"quantitative","scale":{"domain":[-0.04,1.04],"nice":false,"zero":false},"axis":{"orient":"top","title":"(I)"}},"color":{"field":"c","type":"nominal","scale":{"domain":["1","0.8","0.6","0.4","0.2"],"range":["#EDB07E","#EBB83A","#E4E51B","#6DCB1C","#0BA31C"]},"legend":{"title":null,"labelExpr":"datum.label == '1' ? 'reduction if traced (c) = 1' : '\u00a0' + datum.label"}}}}
   ]}
 ]}
 ]
}
]
}
